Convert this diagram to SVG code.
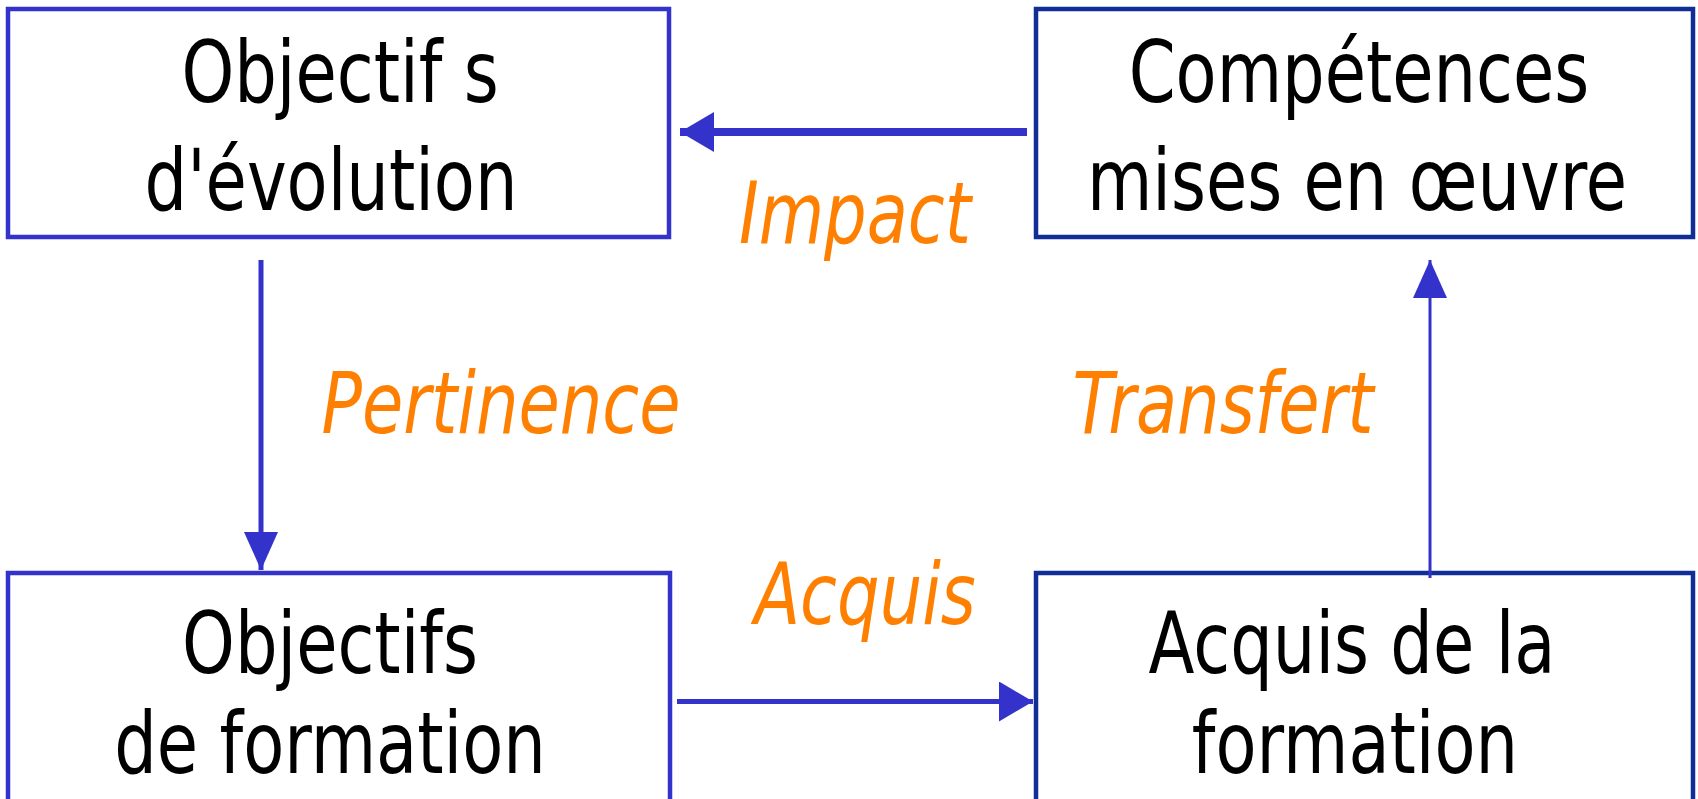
<svg xmlns="http://www.w3.org/2000/svg" width="1698" height="799" viewBox="0 0 1698 799">
  <style>
    .box-l { fill: #ffffff; stroke: #3333cc; stroke-width: 4.5; }
    .box-r { fill: #ffffff; stroke: #112e96; stroke-width: 4.5; }
    .node-text { font-family: "DejaVu Sans", "Verdana", sans-serif; font-size: 85px; fill: #000000; text-anchor: middle; }
    .label { font-family: "DejaVu Sans", "Verdana", sans-serif; font-size: 85px; font-style: italic; fill: #ff8000; text-anchor: middle; }
    .conn { stroke: #3333cc; fill: none; }
  </style>
  <defs>
    <marker id="arrow-h" viewBox="0 0 34 40" refX="34" refY="20" markerWidth="34" markerHeight="40" markerUnits="userSpaceOnUse" orient="auto">
      <path d="M0,0 L34,20 L0,40 Z" fill="#3333cc"/>
    </marker>
    <marker id="arrow-v" viewBox="0 0 38 34" refX="38" refY="17" markerWidth="38" markerHeight="34" markerUnits="userSpaceOnUse" orient="auto">
      <path d="M0,0 L38,17 L0,34 Z" fill="#3333cc"/>
    </marker>
  </defs>
  <rect width="1698" height="799" fill="#ffffff"/>

  <g id="node-objectifs-evolution">
    <rect class="box-l" x="8" y="9" width="661" height="228"/>
    <text class="node-text" transform="translate(340,102) scale(0.79,1)">Objectif s</text>
    <text class="node-text" transform="translate(331,210) scale(0.79,1)">d'évolution</text>
  </g>

  <g id="node-competences">
    <rect class="box-r" x="1036" y="9" width="657" height="228"/>
    <text class="node-text" transform="translate(1359,102) scale(0.79,1)">Compétences</text>
    <text class="node-text" transform="translate(1357,210) scale(0.79,1)">mises en œuvre</text>
  </g>

  <g id="node-objectifs-formation">
    <rect class="box-l" x="8" y="573" width="662" height="260"/>
    <text class="node-text" transform="translate(330,673) scale(0.79,1)">Objectifs</text>
    <text class="node-text" transform="translate(330,773) scale(0.79,1)">de formation</text>
  </g>

  <g id="node-acquis-formation">
    <rect class="box-r" x="1036" y="573" width="657" height="260"/>
    <text class="node-text" transform="translate(1352,673) scale(0.79,1)">Acquis de la</text>
    <text class="node-text" transform="translate(1355,773) scale(0.79,1)">formation</text>
  </g>

  <g id="connectors">
    <line class="conn" x1="1027" y1="132" x2="680" y2="132" stroke-width="8" marker-end="url(#arrow-h)"/>
    <line class="conn" x1="261" y1="260" x2="261" y2="570" stroke-width="5" marker-end="url(#arrow-v)"/>
    <line class="conn" x1="1430" y1="578" x2="1430" y2="260" stroke-width="3" marker-end="url(#arrow-v)"/>
    <line class="conn" x1="677" y1="701.5" x2="1033" y2="701.5" stroke-width="5" marker-end="url(#arrow-h)"/>
    <text class="label" transform="translate(855,243) scale(0.79,1)">Impact</text>
    <text class="label" transform="translate(501,433) scale(0.79,1)">Pertinence</text>
    <text class="label" transform="translate(1223,433) scale(0.79,1)">Transfert</text>
    <text class="label" transform="translate(865,624) scale(0.79,1)">Acquis</text>
  </g>
</svg>
